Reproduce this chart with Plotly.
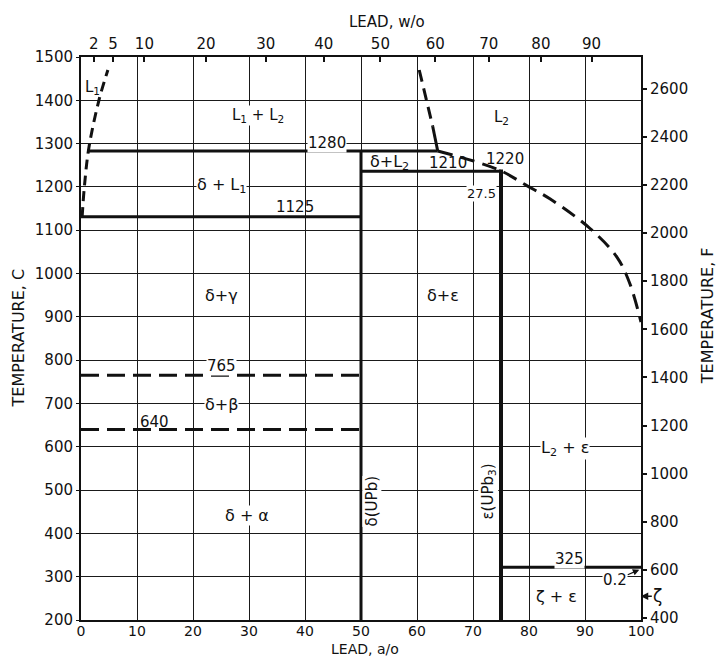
import plotly.graph_objects as go

# ---------------- axis data ----------------
lead_ao_ticks = [0, 10, 20, 30, 40, 50, 60, 70, 80, 90, 100]
temp_c_ticks = [200, 300, 400, 500, 600, 700, 800, 900, 1000, 1100, 1200, 1300, 1400, 1500]
lead_wo_ticks = [2, 5, 10, 20, 30, 40, 50, 60, 70, 80, 90]
temp_f_ticks = [400, 600, 800, 1000, 1200, 1400, 1600, 1800, 2000, 2200, 2400, 2600]

ATW_PB = 207.2
ATW_U = 238.03


def wo_to_ao(w):
    n_pb = w / ATW_PB
    n_u = (100 - w) / ATW_U
    return 100 * n_pb / (n_pb + n_u)


def f_to_c(f):
    return (f - 32) * 5 / 9


# ---------------- phase boundaries (a/o Pb, deg C) ----------------
l1_liquidus_x = [0.2, 0.6, 1.4, 3.2, 4.8]
l1_liquidus_y = [1130, 1200, 1290, 1400, 1470]

l2_upper_dashed_x = [60.4, 62.8]
l2_upper_dashed_y = [1470, 1340]
l2_upper_solid_x = [62.8, 63.7]
l2_upper_solid_y = [1340, 1283]

l2_liquidus_x = [63.7, 74.5, 79.6, 83.8, 90.9, 95.7, 98.0, 100.0]
l2_liquidus_y = [1283, 1240, 1203, 1172, 1104, 1038, 977, 888]

monotectic_x = [1.1, 63.7]
monotectic_y = [1283, 1283]

eutectic_x = [0, 50]
eutectic_y = [1131, 1131]

delta_x = [50, 50]
delta_y = [200, 1283]

peritectic_x = [50, 75]
peritectic_y = [1236, 1236]

epsilon_x = [75, 75]
epsilon_y = [200, 1240]

zeta_iso_x = [75, 100]
zeta_iso_y = [322, 322]

beta_gamma_x = [0, 50]
beta_gamma_y = [765, 765]

alpha_beta_x = [0, 50]
alpha_beta_y = [640, 640]

FONT = "DejaVu Sans"
INK = "#111111"

fig = go.Figure()


def add_line(x, y, width=3, dash=None, shape="linear"):
    fig.add_trace(go.Scatter(
        x=x, y=y, mode="lines",
        line=dict(color=INK, width=width, dash=dash, shape=shape),
        hoverinfo="skip", showlegend=False, cliponaxis=False))


add_line(l1_liquidus_x, l1_liquidus_y, 3, "10px,6px", "spline")
add_line(l2_upper_dashed_x, l2_upper_dashed_y, 3, "12px,7px")
add_line(l2_upper_solid_x, l2_upper_solid_y, 3)
add_line(l2_liquidus_x, l2_liquidus_y, 3, "15px,8px", "spline")
add_line(monotectic_x, monotectic_y, 3)
add_line(eutectic_x, eutectic_y, 3)
add_line(delta_x, delta_y, 3)
add_line(peritectic_x, peritectic_y, 3)
add_line(epsilon_x, epsilon_y, 4)
add_line(zeta_iso_x, zeta_iso_y, 3)
add_line(beta_gamma_x, beta_gamma_y, 3, "18px,8px")
add_line(alpha_beta_x, alpha_beta_y, 3, "18px,8px")

# invisible traces to anchor the secondary axes
fig.add_trace(go.Scatter(x=[0, 100], y=[200, 1500], xaxis="x2", yaxis="y2",
                         mode="markers", marker=dict(opacity=0),
                         hoverinfo="skip", showlegend=False))

# ---------------- labels ----------------
labels = [
    # text, x, y, white background, size
    ("L<sub>1</sub>", 2.1, 1429, False, 15),
    ("L<sub>1</sub> + L<sub>2</sub>", 31.6, 1365, True, 15),
    ("1280", 43.9, 1302, True, 15),
    ("δ + L<sub>1</sub>", 25.1, 1204, True, 16),
    ("1125", 38.2, 1154, False, 15),
    ("L<sub>2</sub>", 75.1, 1361, False, 15),
    ("δ+L<sub>2</sub>", 55.0, 1256, False, 16),
    ("1210", 65.6, 1255, False, 15),
    ("1220", 75.8, 1265, False, 15),
    ("27.5", 71.5, 1185, True, 13),
    ("δ+γ", 25.1, 950, False, 16),
    ("765", 25.1, 787, True, 15),
    ("δ+β", 25.1, 698, True, 16),
    ("640", 13.2, 658, False, 15),
    ("δ + α", 29.6, 442, True, 16),
    ("δ+ε", 64.7, 950, False, 16),
    ("L<sub>2</sub> + ε", 86.4, 597, True, 16),
    ("325", 87.3, 342, True, 15),
    ("ζ + ε", 84.9, 254, False, 16),
    ("γ", -0.8, 950, False, 16),
    ("β", -0.8, 735, False, 16),
    ("α", -1.2, 432, False, 15),
]

annotations = []
for text, x, y, bg, size in labels:
    annotations.append(dict(
        text=text, x=x, y=y, xref="x", yref="y", showarrow=False,
        xanchor="center", yanchor="middle",
        font=dict(family=FONT, size=size, color=INK),
        bgcolor="white" if bg else "rgba(0,0,0,0)", borderpad=0))

# vertical compound labels
annotations.append(dict(text="δ(UPb)", x=51.9, y=473, xref="x", yref="y",
                        showarrow=False, textangle=-90,
                        xanchor="center", yanchor="middle",
                        font=dict(family=FONT, size=15, color=INK),
                        bgcolor="white", borderpad=0))
annotations.append(dict(text="ε(UPb<sub>3</sub>)", x=72.7, y=497, xref="x", yref="y",
                        showarrow=False, textangle=-90,
                        xanchor="center", yanchor="middle",
                        font=dict(family=FONT, size=15, color=INK),
                        bgcolor="white", borderpad=0))

# arrows
annotations.append(dict(text="0.2", x=99.7, y=316, ax=95.4, ay=292,
                        xref="x", yref="y", axref="x", ayref="y",
                        showarrow=True, arrowhead=2, arrowsize=1, arrowwidth=1.3,
                        arrowcolor=INK, standoff=0,
                        font=dict(family=FONT, size=15, color=INK),
                        bgcolor="white", borderpad=0))
annotations.append(dict(text="ζ", x=99.95, y=255, ax=103.0, ay=255,
                        xref="x", yref="y", axref="x", ayref="y",
                        showarrow=True, arrowhead=2, arrowsize=1, arrowwidth=1.5,
                        arrowcolor=INK, standoff=0,
                        font=dict(family=FONT, size=17, color=INK)))

# axis titles
title_font = dict(family=FONT, size=15, color=INK)
annotations += [
    dict(text="LEAD, w/o", x=0.546, y=1.062, xref="paper", yref="paper",
         xanchor="center", yanchor="middle", showarrow=False, font=title_font),
    dict(text="LEAD, a/o", x=0.507, y=-0.0515, xref="paper", yref="paper",
         xanchor="center", yanchor="middle", showarrow=False,
         font=dict(family=FONT, size=14, color=INK)),
    dict(text="TEMPERATURE, C", x=-0.1125, y=0.50, xref="paper", yref="paper",
         xanchor="center", yanchor="middle", showarrow=False, textangle=-90,
         font=dict(family=FONT, size=16, color=INK)),
    dict(text="TEMPERATURE, F", x=1.12, y=0.54, xref="paper", yref="paper",
         xanchor="center", yanchor="middle", showarrow=False, textangle=-90,
         font=dict(family=FONT, size=16, color=INK)),
]

tickfont = dict(family=FONT, size=15, color=INK)
GRID = "#1a1a1a"

fig.update_layout(
    width=717, height=658,
    margin=dict(l=81, r=76, t=57, b=38, pad=0),
    paper_bgcolor="white", plot_bgcolor="white",
    showlegend=False,
    annotations=annotations,
    xaxis=dict(range=[0, 100], tickvals=lead_ao_ticks, ticktext=[str(v) for v in lead_ao_ticks],
               showgrid=True, gridcolor=GRID, gridwidth=1.3,
               showline=True, linecolor=INK, linewidth=2, mirror=False,
               ticks="", tickfont=dict(family=FONT, size=14, color=INK),
               ticklabelstandoff=-3,
               zeroline=False, fixedrange=True),
    yaxis=dict(range=[200, 1500], tickvals=temp_c_ticks, ticktext=[str(v) for v in temp_c_ticks],
               showgrid=True, gridcolor=GRID, gridwidth=1.3,
               showline=True, linecolor=INK, linewidth=2, mirror=False,
               ticks="outside", ticklen=3, tickcolor=INK, tickfont=tickfont,
               zeroline=False, fixedrange=True),
    xaxis2=dict(range=[0, 100], overlaying="x", side="top", anchor="y",
                tickvals=[wo_to_ao(w) for w in lead_wo_ticks],
                ticktext=[str(w) for w in lead_wo_ticks],
                showgrid=False, showline=True, linecolor=INK, linewidth=2,
                ticks="inside", ticklen=5, tickwidth=1.5, tickcolor=INK,
                tickfont=tickfont, zeroline=False, fixedrange=True),
    yaxis2=dict(range=[200, 1500], overlaying="y", side="right", anchor="x",
                tickvals=[f_to_c(f) for f in temp_f_ticks],
                ticktext=[str(f) for f in temp_f_ticks],
                showgrid=False, showline=True, linecolor=INK, linewidth=2,
                ticks="outside", ticklen=4, tickwidth=1.5, tickcolor=INK,
                tickfont=tickfont, zeroline=False, fixedrange=True),
)

fig.write_html("out.html")
